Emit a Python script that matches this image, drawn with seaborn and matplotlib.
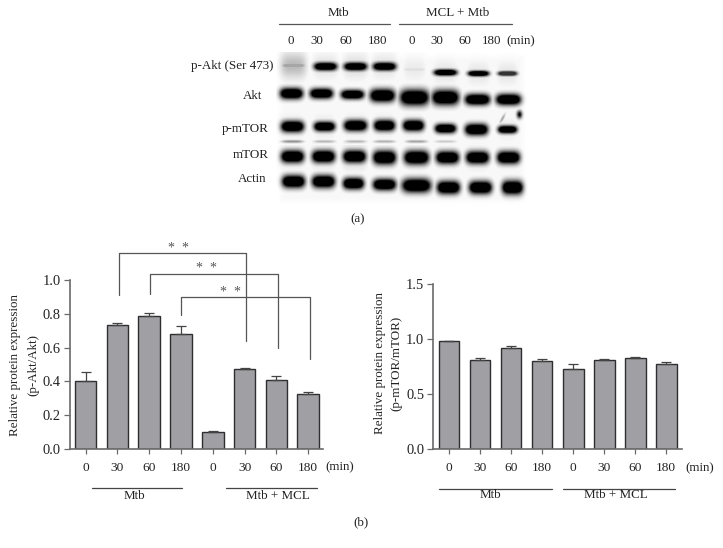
import numpy as np
import pandas as pd
import matplotlib
matplotlib.use("Agg")
import matplotlib.pyplot as plt
from matplotlib.lines import Line2D
import seaborn as sns

W, H = 723, 548

sns.set_style("ticks")
plt.rcParams['font.family'] = ['Liberation Serif', 'DejaVu Serif']

# chart values
times = ["0", "30", "60", "180", "0", "30", "60", "180"]
akt_values = [0.40, 0.735, 0.785, 0.68, 0.10, 0.475, 0.41, 0.325]
akt_err = [0.055, 0.013, 0.017, 0.05, 0.006, 0.007, 0.02, 0.013]
mtor_values = [0.98, 0.806, 0.918, 0.803, 0.727, 0.809, 0.83, 0.776]
mtor_err = [0.004, 0.024, 0.015, 0.017, 0.043, 0.011, 0.009, 0.011]

# significance brackets: bar index left/right, top, left end, right end
bracket_left = [1.06, 2.02, 3.01]
bracket_right = [5.06, 6.05, 7.06]
bracket_top = [1.16, 1.034, 0.90]
bracket_left_end = [0.91, 0.915, 0.79]
bracket_right_end = [0.64, 0.60, 0.53]

# blot bands, one list per row: lane x, band y, half width, half height, darkness
blot_names = ["p-Akt (Ser 473)", "Akt", "p-mTOR", "mTOR", "Actin"]
blot_name_x = [232, 253, 245, 251, 252]
blot_name_y = [66, 96, 129, 155, 179]
lane_names = ["0", "30", "60", "180", "0", "30", "60", "180"]
lane_name_x = [291, 317, 346, 378, 412, 437, 465, 492]
band_x = [
    [293, 325, 355, 384, 414, 445, 478, 507],
    [291, 321, 352, 382, 414, 445, 477, 508],
    [292, 324, 355, 384, 413, 445, 476, 507],
    [292, 323, 354, 384, 416, 447, 477, 508],
    [293, 323, 353, 384, 416, 448, 480, 512],
]
band_y = [
    [65, 66, 66, 66, 69, 72, 73, 73],
    [93, 93, 94, 95, 97, 97, 99, 99],
    [126, 126, 125, 125, 125, 128, 129, 129],
    [156, 156, 156, 157, 157, 157, 157, 157],
    [181, 181, 183, 184, 185, 187, 187, 187],
]
band_w = [
    [12, 12, 12, 12, 11, 12, 11, 10],
    [12, 12, 12, 13, 15, 14, 13, 13],
    [12, 11, 12, 11, 11, 11, 12, 10],
    [12, 12, 12, 12, 13, 12, 12, 12],
    [12, 12, 11, 12, 15, 12, 12, 11],
]
band_h = [
    [2.5, 4.4, 4.4, 4.4, 2.0, 3.4, 3.0, 2.6],
    [6.0, 5.5, 5.0, 7.0, 8.5, 8.0, 6.0, 6.0],
    [6.2, 5.2, 6.0, 6.0, 6.0, 5.0, 6.2, 4.2],
    [6.8, 6.8, 6.8, 7.5, 7.5, 6.8, 6.8, 6.8],
    [6.8, 6.8, 6.2, 6.2, 7.5, 7.0, 7.0, 7.5],
]
band_dark = [
    [0.35, 1.0, 1.0, 1.0, 0.12, 1.0, 1.0, 0.8],
    [1.0, 1.0, 1.0, 1.0, 1.0, 1.0, 1.0, 1.0],
    [1.0, 1.0, 1.0, 1.0, 1.0, 1.0, 1.0, 1.0],
    [1.0, 1.0, 1.0, 1.0, 1.0, 1.0, 1.0, 1.0],
    [1.0, 1.0, 1.0, 1.0, 1.0, 1.0, 1.0, 1.0],
]
smear_dark = [
    [0.28, 0.12, 0.14, 0.12, 0.08, 0.10, 0.10, 0.10],
    [0.05, 0.05, 0.05, 0.05, 0.05, 0.05, 0.05, 0.05],
    [0.10, 0.10, 0.10, 0.10, 0.10, 0.06, 0.08, 0.08],
    [0.12, 0.16, 0.20, 0.12, 0.12, 0.10, 0.12, 0.10],
    [0.04, 0.04, 0.04, 0.04, 0.04, 0.04, 0.04, 0.04],
]
# faint second band under p-mTOR
weak_x = [292, 324, 355, 384, 416, 445]
weak_dark = [0.42, 0.28, 0.28, 0.30, 0.35, 0.20]

star_x = [178, 207, 231]
star_y = [248, 269, 292]

bar_color = "#a0a0a4"
edge_color = "#2e2e30"
axis_color = "#6a6a6c"
text_color = "#222222"
font_size = 9.4

fig = plt.figure(figsize=(W / 100, H / 100), dpi=100)


def fx(x):
    return x / W


def fy(y):
    return 1 - y / H


def label(x, y, s, **kw):
    kw.setdefault("fontsize", font_size)
    kw.setdefault("ha", "center")
    kw.setdefault("va", "center")
    kw.setdefault("color", text_color)
    fig.text(fx(x), fy(y), s, **kw)


def hline(x0, x1, y, color="#444444", lw=0.9):
    fig.add_artist(Line2D([fx(x0), fx(x1)], [fy(y), fy(y)], color=color, lw=lw))


def bars(box, values, err, xlim, ylim, yticks, fmt, bar_w):
    left, top, right, bottom = box
    ax = fig.add_axes([fx(left), fy(bottom), (right - left) / W, (bottom - top) / H])
    df = pd.DataFrame({"pos": range(len(values)), "value": values})
    sns.barplot(data=df, x="pos", y="value", color=bar_color, saturation=1,
                width=bar_w, edgecolor=edge_color, linewidth=1.0, ax=ax)
    ax.errorbar(df["pos"], values, yerr=[np.zeros(len(err)), err], fmt="none",
                ecolor="#444444", elinewidth=0.9, capsize=3.6, capthick=0.9)
    ax.set_xlim(*xlim)
    ax.set_ylim(*ylim)
    ax.set_yticks(yticks)
    ax.set_yticklabels([fmt % t for t in yticks], fontsize=font_size + 1, color=text_color)
    ax.set_xticks(range(len(values)))
    ax.set_xticklabels(times, fontsize=font_size + 0.2, color=text_color)
    ax.set_xlabel("")
    ax.set_ylabel("")
    ax.tick_params(axis="x", length=3.5, width=0.9, color=axis_color, pad=6)
    ax.tick_params(axis="y", length=4.0, width=0.9, color=axis_color, pad=2.5)
    sns.despine(ax=ax)
    for side in ["left", "bottom"]:
        ax.spines[side].set_color(axis_color)
        ax.spines[side].set_linewidth(1.2)
    ax.patch.set_alpha(0)
    return ax


# (a) blot image
x0, x1, y0, y1 = 276, 528, 52, 206
xx, yy = np.meshgrid(np.arange(x0, x1, 1.0), np.arange(y0, y1, 1.0))
blot = np.zeros(xx.shape)
for r in range(len(band_x)):
    for i in range(8):
        dx = (xx - band_x[r][i]) / band_w[r][i]
        dy = (yy - band_y[r][i]) / band_h[r][i]
        band = np.clip(1.6 * np.exp(-(dx ** 4 + dy ** 2) * 1.2), 0, 1)
        smear = np.exp(-np.abs(dx / 1.1) ** 4 - (dy * band_h[r][i] / 13) ** 2)
        blot = np.maximum(blot, band_dark[r][i] * band)
        blot = np.maximum(blot, smear_dark[r][i] * smear)
for i in range(len(weak_x)):
    weak = np.exp(-((xx - weak_x[i]) / 11) ** 4 - ((yy - 141) / 1.6) ** 2)
    blot = np.maximum(blot, weak_dark[i] * weak)
# smudge at the top right of the p-mTOR row
blot = np.maximum(blot, np.exp(-((xx - 519) / 2.8) ** 2 - ((yy - 114) / 4) ** 2))
blot = np.maximum(blot, 0.35 * np.exp(-((xx - 501 - (120 - yy) * 0.5) / 1.6) ** 2 - ((yy - 118) / 5) ** 2))
blot[yy == 144] = 0
# faint grey around the blot, fading to the white page
edge = np.minimum.reduce([xx - x0, x1 - 1 - xx, yy - y0, y1 - 1 - yy]) / 8
blot = np.maximum(blot, 0.03 * np.clip(edge, 0, 1))

ax_blot = fig.add_axes([fx(x0), fy(y1), (x1 - x0) / W, (y1 - y0) / H])
ax_blot.imshow(1 - blot, cmap="gray", vmin=0, vmax=1, aspect="auto", interpolation="bilinear")
ax_blot.axis("off")

label(338, 13, "Mtb")
label(458, 13, "MCL + Mtb")
hline(279, 390, 24, color="#555555")
hline(399, 512, 24, color="#555555")
for i in range(len(lane_names)):
    label(lane_name_x[i], 41, lane_names[i])
label(521, 41, "(min)")
for i in range(len(blot_names)):
    label(blot_name_x[i], blot_name_y[i], blot_names[i])
label(358, 219, "(a)")

# (b) left chart
ax1 = bars((70, 280, 323, 449), akt_values, akt_err, (-0.494, 7.47), (0, 1.0),
           [0.0, 0.2, 0.4, 0.6, 0.8, 1.0], "%.1f", 0.68)
for i in range(len(bracket_left)):
    ax1.plot([bracket_left[i], bracket_left[i], bracket_right[i], bracket_right[i]],
             [bracket_left_end[i], bracket_top[i], bracket_top[i], bracket_right_end[i]],
             color="#555555", lw=0.9, clip_on=False, zorder=5)
    label(star_x[i], star_y[i], "*  *", fontsize=10, color="#555555")

label(15, 365, "Relative protein expression", rotation=90)
label(33, 365, "(p-Akt/Akt)", rotation=90)
label(340, 467, "(min)")
hline(92, 182, 488)
hline(226, 317, 488)
label(134, 496, "Mtb")
label(278, 496, "Mtb + MCL")

# (b) right chart
ax2 = bars((433.3, 284, 681.7, 449), mtor_values, mtor_err, (-0.506, 7.5), (0, 1.5),
           [0.0, 0.5, 1.0, 1.5], "%.1f", 0.67)
label(380, 363, "Relative protein expression", rotation=90)
label(396, 363, "(p-mTOR/mTOR)", rotation=90)
label(700, 468, "(min)")
hline(439, 552, 489)
hline(563, 675, 489)
label(490, 495, "Mtb")
label(616, 495, "Mtb + MCL")

label(361, 522, "(b)")

fig.savefig("out.png", dpi=100)
